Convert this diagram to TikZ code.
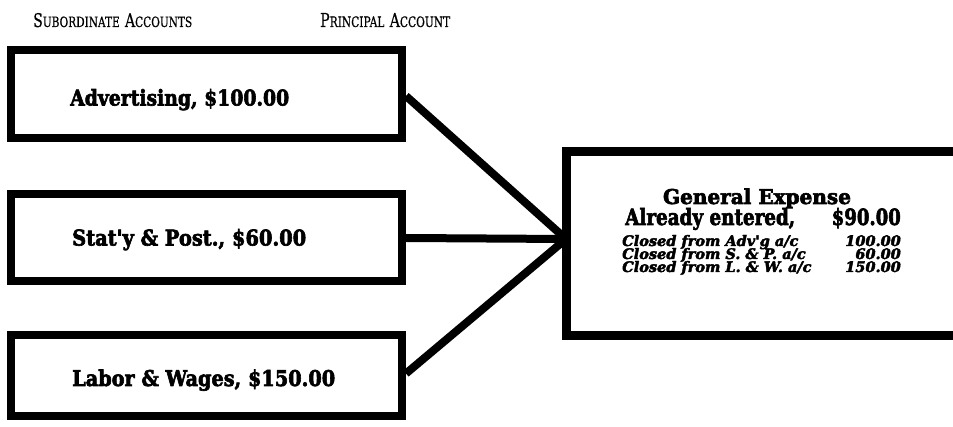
\documentclass[tikz,border=0pt]{standalone}
\usepackage{graphicx}
\usepackage{fontspec}
\newfontfamily\heavy{DejaVu Serif}[BoldFeatures={FakeBold=3}, BoldItalicFeatures={FakeBold=3}]
\newfontfamily\headserif{DejaVu Serif}[FakeBold=0.6]
\newcommand\bigsc[1]{{\fontsize{16}{16}\selectfont #1}}
\newcommand\smallsc[1]{{\fontsize{12}{12}\selectfont #1}}
\begin{document}
\begin{tikzpicture}[x=1pt, y=-1pt,
  acct/.style={draw=black, line width=8pt, minimum width=391pt, inner sep=0pt},
  principal/.style={draw=black, line width=9pt, minimum width=392pt, minimum height=184pt, inner sep=0pt},
  link/.style={draw=black, line width=8pt},
  lbl/.style={inner sep=0pt, anchor=base west},
  headfont/.style={font=\headserif},
  boxfont/.style={font=\heavy\bfseries\fontsize{18}{20}\selectfont},
  entryfont/.style={font=\heavy\bfseries\itshape\fontsize{14.5}{14}\selectfont}]
\useasboundingbox (0,0) rectangle (953,427);

% column headings, set in small capitals
\node[lbl, headfont] (h-sub) at (33,27)
  {\resizebox{159pt}{14pt}{\bigsc{S}\smallsc{UBORDINATE}\hspace{0.6em}\bigsc{A}\smallsc{CCOUNTS}}};
\node[lbl, headfont] (h-prin) at (320,27)
  {\resizebox{130pt}{14pt}{\bigsc{P}\smallsc{RINCIPAL}\hspace{0.6em}\bigsc{A}\smallsc{CCOUNT}}};

% subordinate accounts
\node[acct, minimum height=88pt] (adv) at (206.5,94) {};
\node[acct, minimum height=87pt] (stat) at (206.5,238) {};
\node[acct, minimum height=81pt] (labor) at (206.5,375.5) {};

\node[lbl, boxfont] (adv-t) at (70,105.5) {\resizebox{219pt}{16.5pt}{Advertising, \$100.00}};
\node[lbl, boxfont] (stat-t) at (72,245.5) {\resizebox{234pt}{16.5pt}{Stat'y \& Post., \$60.00}};
\node[lbl, boxfont] (labor-t) at (72,386) {\resizebox{263pt}{16.5pt}{Labor \& Wages, \$150.00}};

% principal account
\node[principal] (gen) at (762,244) {};
\coordinate (hub) at (566,239);

\node[lbl, anchor=base, boxfont] (gen-t) at (757,204) {\resizebox{188pt}{15.5pt}{General Expense}};
\node[lbl, boxfont] (ae) at (625,225) {\resizebox{170pt}{17pt}{Already entered,}};
\node[lbl, anchor=base east, boxfont] (ae-amt) at (901,225) {\resizebox{69pt}{17pt}{\$90.00}};

\node[lbl, entryfont] (e1) at (622,246) {Closed from Adv'g a/c};
\node[lbl, entryfont] (e2) at (622,259) {Closed from S. \& P. a/c};
\node[lbl, entryfont] (e3) at (622,272) {Closed from L. \& W. a/c};
\node[lbl, anchor=base east, entryfont] (a1) at (901,246) {100.00};
\node[lbl, anchor=base east, entryfont] (a2) at (901,259) {60.00};
\node[lbl, anchor=base east, entryfont] (a3) at (901,272) {150.00};

% closing transfers into the principal account
\draw[link] ([yshift=-2pt]adv.east) -- (hub);
\draw[link] (stat.east) -- (hub);
\draw[link] ([yshift=2pt]labor.east) -- (hub);
\end{tikzpicture}
\end{document}
